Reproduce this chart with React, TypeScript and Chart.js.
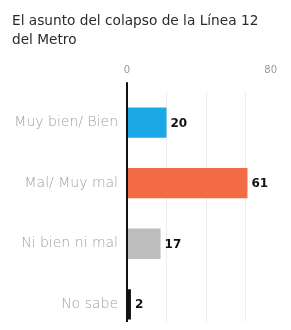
import React, { useEffect, useRef } from "react";
import { Chart, registerables } from "chart.js";

Chart.register(...registerables);

const titleLines = ["El asunto del colapso de la Línea 12", "del Metro"];
const categories = ["Muy bien/ Bien", "Mal/ Muy mal", "Ni bien ni mal", "No sabe"];
const values = [20, 61, 17, 2];
const barColors = ["#1aa8e6", "#f26b45", "#bdbdbd", "#111111"];
const shownTicks = [0, 80];
const axisMax = 80;

const valueLabels = {
  id: "valueLabels",
  afterDatasetsDraw(chart: any) {
    const ctx = chart.ctx;
    const meta = chart.getDatasetMeta(0);
    ctx.save();
    ctx.font = "bold 12px 'DejaVu Sans'";
    ctx.fillStyle = "#111";
    ctx.textAlign = "left";
    ctx.textBaseline = "middle";
    meta.data.forEach((bar: any, i: number) => {
      ctx.fillText(String(values[i]), bar.x + 4, bar.y + 1);
    });
    // top axis tick labels, placed through the x scale
    const xs = chart.scales.x;
    ctx.font = "10px 'DejaVu Sans'";
    ctx.fillStyle = "#999";
    ctx.textBaseline = "middle";
    const y = chart.chartArea.top - 22;
    shownTicks.forEach((v, i) => {
      const px = xs.getPixelForValue(v);
      if (i === shownTicks.length - 1) {
        ctx.textAlign = "right";
        ctx.fillText(String(v), px - 8, y);
      } else {
        ctx.textAlign = "center";
        ctx.fillText(String(v), px, y);
      }
    });
    ctx.restore();
  },
};

export default function App() {
  const ref = useRef<HTMLCanvasElement>(null);
  useEffect(() => {
    if (!ref.current) return;
    const chart = new Chart(ref.current, {
      type: "bar",
      data: {
        labels: categories,
        datasets: [
          {
            data: values,
            backgroundColor: barColors,
            borderWidth: 0,
            barPercentage: 0.5,
            categoryPercentage: 1,
          },
        ],
      },
      options: {
        indexAxis: "y",
        responsive: true,
        maintainAspectRatio: false,
        animation: false,
        layout: { padding: { left: 12, right: 2, top: 12, bottom: 0 } },
        plugins: {
          legend: { display: false },
          tooltip: { enabled: false },
          title: {
            display: true,
            text: titleLines,
            align: "start",
            color: "#2a2a2a",
            font: { family: "'DejaVu Sans'", size: 13.7, weight: "normal", lineHeight: 1.4 },
            padding: { top: 0, bottom: 8 },
          },
        },
        scales: {
          x: {
            type: "linear",
            position: "top",
            min: 0,
            max: axisMax,
            border: { display: false },
            grid: {
              color: (c: any) =>
                c.tick && c.tick.value === 0
                  ? "#111"
                  : c.tick && c.tick.value === axisMax
                  ? "rgba(0,0,0,0)"
                  : "#eeeeee",
              lineWidth: (c: any) => (c.tick && c.tick.value === 0 ? 2 : 1),
              tickColor: (c: any) => (c.tick && c.tick.value === 0 ? "#111" : "rgba(0,0,0,0)"),
              tickLength: 10,
            },
            ticks: {
              stepSize: 20,
              padding: 6,
              align: "inner",
              color: "rgba(0,0,0,0)",
              font: { family: "'DejaVu Sans'", size: 10 },
              maxRotation: 0,
              callback: (v: any) => (shownTicks.includes(Number(v)) ? String(v) : ""),
            },
          },
          y: {
            type: "category",
            grid: { display: false, drawTicks: false },
            border: { display: false },
            ticks: {
              padding: 9,
              color: "#a0a0a0",
              font: { family: "'DejaVu Sans'", size: 14, weight: 300 },
            },
            afterFit: (scale: any) => {
              scale.width = 115;
            },
          },
        },
      },
      plugins: [valueLabels],
    });
    return () => chart.destroy();
  }, []);
  return (
    <div style={{ margin: "-8px", width: 291, height: 330, overflow: "hidden", background: "#fff" }}>
      <div style={{ position: "relative", width: 291, height: 352 }}>
        <canvas ref={ref} />
      </div>
    </div>
  );
}
